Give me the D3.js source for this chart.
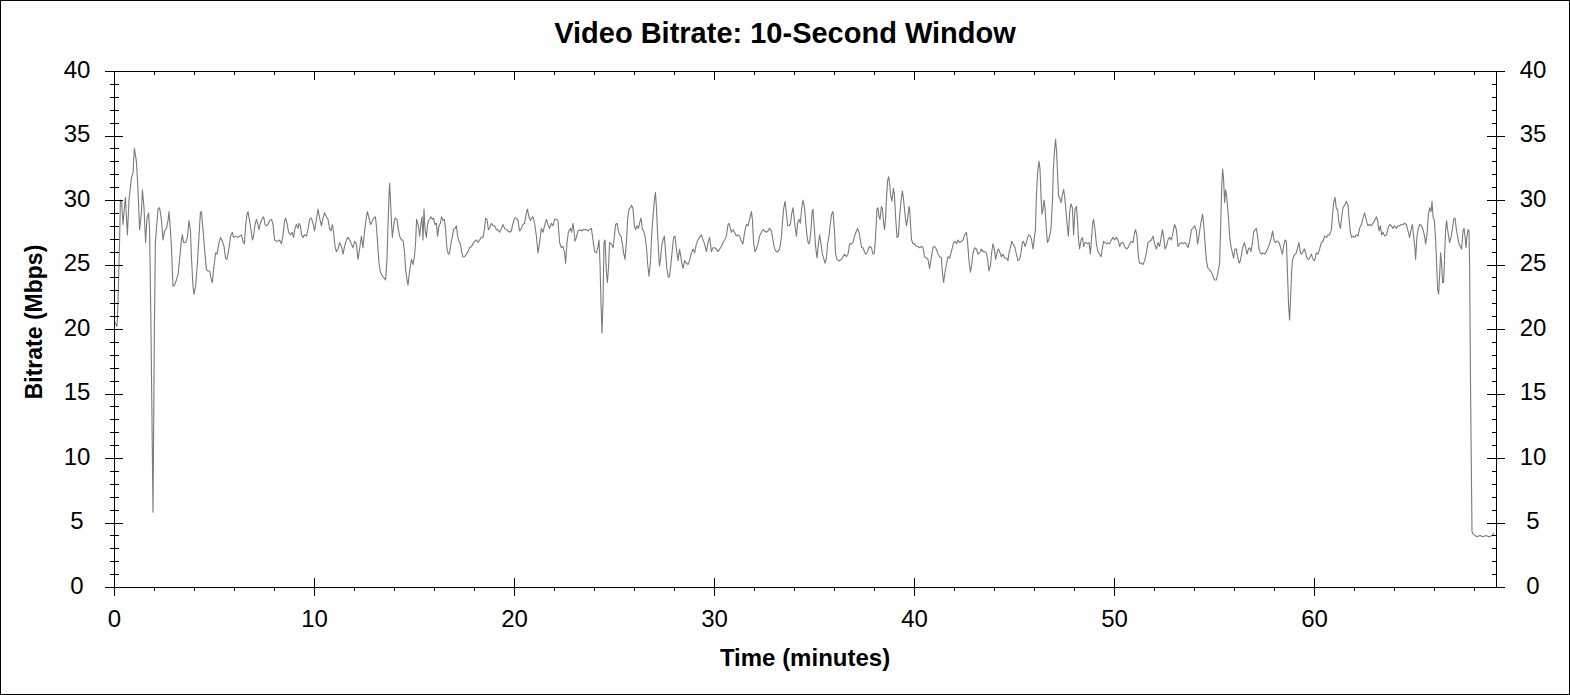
<!DOCTYPE html>
<html>
<head>
<meta charset="utf-8">
<title>Video Bitrate: 10-Second Window</title>
<style>
  body { margin: 0px; overflow: hidden; background: #fff; }
  text { font-family: Arial, "Liberation Sans", sans-serif; fill: #000; }
  .tick line { stroke: #000; shape-rendering: crispEdges; }
</style>
<script src="https://d3js.org/d3.v7.min.js"></script>
</head>
<body>
<svg width="1570" height="695"></svg>
<script>
// [minute, Mbps] samples, one array per 10 minutes
const bitrate00to10 = [[0.05,20.5],[0.15,20.2],[0.20,22.0],[0.28,26.9],[0.32,30.0],[0.38,29.9],[0.45,28.1],[0.52,29.4],[0.57,30.2],[0.67,27.3],[0.75,30.0],[0.87,31.7],[0.95,32.1],[1.02,34.0],[1.12,33.0],[1.20,30.8],[1.28,27.7],[1.37,29.0],[1.42,30.8],[1.50,29.4],[1.58,26.7],[1.65,28.6],[1.73,29.0],[1.78,27.7],[1.85,20.0],[1.95,5.8],[2.02,20.0],[2.07,26.7],[2.20,29.3],[2.28,29.4],[2.37,28.5],[2.45,26.9],[2.53,27.6],[2.62,27.8],[2.70,28.4],[2.75,29.1],[2.82,27.7],[2.87,26.4],[2.95,23.3],[3.03,23.4],[3.12,23.8],[3.20,24.2],[3.28,25.4],[3.37,26.9],[3.42,27.3],[3.48,26.7],[3.58,26.7],[3.67,27.1],[3.75,28.4],[3.82,27.7],[3.87,25.6],[3.95,23.3],[4.00,22.7],[4.08,23.3],[4.17,25.1],[4.25,27.2],[4.32,29.0],[4.37,29.1],[4.45,27.7],[4.53,26.2],[4.62,24.6],[4.70,24.5],[4.78,24.5],[4.87,23.8],[4.92,23.6],[4.98,24.6],[5.08,25.9],[5.15,25.8],[5.25,26.7],[5.33,27.1],[5.42,26.8],[5.50,26.4],[5.58,25.5],[5.65,25.4],[5.72,26.0],[5.78,26.6],[5.83,27.2],[5.92,27.5],[5.98,27.1],[6.08,27.2],[6.20,27.1],[6.28,27.2],[6.37,27.3],[6.45,26.8],[6.52,26.6],[6.58,28.0],[6.65,28.9],[6.70,29.1],[6.78,28.4],[6.85,27.7],[6.92,26.9],[6.98,27.2],[7.05,28.1],[7.12,28.5],[7.18,28.2],[7.25,27.7],[7.32,28.2],[7.42,28.6],[7.48,28.7],[7.55,28.1],[7.62,28.0],[7.70,28.1],[7.78,28.4],[7.88,28.5],[7.95,28.1],[8.03,26.9],[8.12,26.8],[8.20,26.8],[8.28,26.9],[8.37,26.6],[8.45,27.3],[8.53,28.4],[8.58,28.6],[8.65,28.2],[8.73,27.5],[8.82,27.3],[8.90,27.5],[8.98,27.1],[9.05,27.8],[9.12,28.1],[9.20,27.8],[9.25,28.2],[9.32,28.0],[9.38,27.3],[9.45,27.1],[9.53,27.3],[9.62,27.2],[9.70,27.7],[9.78,28.5]];

const bitrate10to20 = [[9.87,28.6],[9.95,28.2],[10.03,27.6],[10.12,28.5],[10.20,29.3],[10.28,28.6],[10.37,28.0],[10.45,28.6],[10.53,29.0],[10.62,28.7],[10.70,28.5],[10.78,27.8],[10.85,27.6],[10.92,28.1],[10.98,27.5],[11.05,26.4],[11.12,26.0],[11.20,26.2],[11.28,26.7],[11.37,26.4],[11.45,25.8],[11.53,26.4],[11.62,26.9],[11.70,27.1],[11.78,26.9],[11.87,26.6],[11.95,26.3],[12.03,26.8],[12.12,26.6],[12.20,25.4],[12.28,26.2],[12.37,27.2],[12.45,26.3],[12.53,27.6],[12.62,28.7],[12.67,29.1],[12.75,28.6],[12.83,28.1],[12.92,28.4],[13.00,28.6],[13.07,28.7],[13.12,28.0],[13.20,26.2],[13.25,25.1],[13.32,24.4],[13.42,24.1],[13.48,24.0],[13.58,23.8],[13.65,25.4],[13.70,28.0],[13.75,30.3],[13.78,31.3],[13.83,29.8],[13.88,28.0],[13.92,27.1],[13.98,28.0],[14.05,28.6],[14.15,28.5],[14.22,27.7],[14.28,27.2],[14.37,26.9],[14.45,26.9],[14.53,25.9],[14.58,24.6],[14.65,23.8],[14.70,23.4],[14.75,24.1],[14.82,24.9],[14.88,25.4],[14.95,25.0],[15.02,25.6],[15.08,26.7],[15.13,28.5],[15.22,28.0],[15.28,27.2],[15.35,28.2],[15.40,28.7],[15.45,26.9],[15.50,29.3],[15.55,27.7],[15.62,27.1],[15.67,28.0],[15.72,28.4],[15.78,28.5],[15.85,28.7],[15.92,28.5],[15.98,28.6],[16.05,28.1],[16.12,28.2],[16.18,27.2],[16.25,28.0],[16.32,28.2],[16.38,28.7],[16.45,28.4],[16.52,28.5],[16.58,27.7],[16.65,26.2],[16.72,25.8],[16.78,25.9],[16.85,26.7],[16.92,27.2],[16.98,27.7],[17.05,27.8],[17.12,28.0],[17.18,27.2],[17.25,26.8],[17.32,26.6],[17.38,26.0],[17.45,25.6],[17.53,25.6],[17.62,25.8],[17.70,26.0],[17.78,26.3],[17.87,26.4],[17.95,26.6],[18.03,26.8],[18.12,26.9],[18.20,26.7],[18.28,26.9],[18.37,27.1],[18.45,27.1],[18.52,27.7],[18.58,28.6],[18.65,28.5],[18.72,27.7],[18.78,27.8],[18.87,28.2],[18.95,28.0],[19.03,28.0],[19.12,27.7],[19.20,27.7],[19.28,27.5],[19.37,27.8],[19.45,28.1],[19.53,27.8],[19.62,27.7],[19.70,27.6],[19.78,27.5]];

const bitrate20to30 = [[19.87,27.6],[19.95,28.2],[20.03,28.6],[20.12,28.6],[20.20,28.4],[20.28,27.6],[20.37,27.8],[20.45,28.1],[20.53,28.2],[20.62,29.0],[20.67,29.3],[20.75,28.7],[20.82,28.4],[20.88,28.6],[20.95,28.7],[21.03,28.2],[21.12,27.2],[21.20,25.9],[21.28,26.7],[21.37,27.8],[21.45,27.5],[21.53,28.0],[21.62,28.5],[21.70,28.1],[21.78,27.8],[21.87,28.2],[21.95,28.0],[22.03,28.5],[22.12,28.5],[22.20,28.4],[22.28,26.7],[22.37,26.3],[22.45,26.4],[22.53,25.9],[22.58,25.1],[22.65,26.7],[22.72,27.5],[22.78,27.7],[22.83,27.8],[22.88,27.5],[22.95,28.2],[23.00,27.6],[23.05,26.8],[23.12,27.1],[23.20,27.6],[23.28,27.7],[23.37,27.6],[23.45,27.7],[23.53,27.7],[23.62,27.7],[23.70,27.6],[23.78,27.7],[23.87,27.8],[23.95,26.9],[24.03,26.0],[24.12,25.9],[24.20,26.4],[24.25,26.9],[24.30,25.1],[24.35,22.0],[24.40,19.7],[24.45,22.0],[24.50,26.7],[24.55,26.9],[24.62,24.4],[24.67,23.6],[24.73,24.9],[24.78,26.7],[24.87,26.6],[24.95,26.3],[25.02,27.2],[25.08,28.1],[25.15,28.2],[25.22,27.6],[25.28,27.3],[25.35,27.2],[25.42,26.6],[25.48,25.9],[25.55,25.4],[25.62,26.7],[25.68,28.5],[25.75,29.3],[25.82,29.4],[25.88,29.6],[25.95,29.3],[26.02,28.0],[26.08,27.7],[26.15,28.0],[26.22,27.8],[26.28,28.2],[26.35,28.6],[26.42,27.7],[26.48,27.6],[26.55,27.2],[26.62,26.4],[26.68,25.1],[26.75,24.1],[26.82,25.1],[26.88,27.2],[26.95,28.7],[27.02,30.0],[27.07,30.6],[27.12,29.5],[27.17,27.7],[27.22,26.2],[27.27,24.9],[27.32,25.3],[27.38,26.4],[27.45,26.9],[27.52,27.2],[27.58,25.9],[27.65,24.6],[27.72,24.0],[27.78,24.1],[27.85,25.1],[27.92,26.2],[27.98,27.1],[28.05,27.2],[28.12,26.2],[28.20,25.3],[28.28,26.2],[28.37,25.3],[28.45,24.7],[28.53,25.3],[28.62,25.1],[28.70,25.0],[28.78,25.3],[28.87,25.9],[28.95,26.2],[29.03,25.9],[29.12,26.6],[29.20,26.9],[29.28,27.1],[29.37,27.3],[29.45,26.9],[29.53,26.6],[29.62,26.0],[29.70,26.7],[29.78,27.1]];

const bitrate30to40 = [[29.87,26.0],[29.95,26.3],[30.03,26.3],[30.12,26.2],[30.20,26.0],[30.28,26.2],[30.37,26.4],[30.45,26.7],[30.53,26.9],[30.62,27.2],[30.70,28.1],[30.75,28.2],[30.82,27.8],[30.87,27.5],[30.95,27.7],[31.03,27.5],[31.12,27.2],[31.20,27.3],[31.28,27.2],[31.37,26.8],[31.45,26.6],[31.53,27.5],[31.62,28.1],[31.70,28.0],[31.78,28.5],[31.87,29.1],[31.92,28.5],[31.98,26.7],[32.05,26.0],[32.12,26.2],[32.20,26.6],[32.28,27.2],[32.37,27.5],[32.45,27.7],[32.53,27.6],[32.62,27.5],[32.70,27.6],[32.78,27.8],[32.87,27.6],[32.95,26.9],[33.03,26.2],[33.12,26.0],[33.20,26.0],[33.28,26.2],[33.37,27.1],[33.42,28.2],[33.48,29.3],[33.55,29.9],[33.62,29.0],[33.68,28.0],[33.75,28.0],[33.82,28.1],[33.88,28.9],[33.95,29.4],[34.00,28.7],[34.05,28.0],[34.12,27.2],[34.18,28.2],[34.25,28.5],[34.32,28.2],[34.38,29.3],[34.45,30.0],[34.52,29.5],[34.58,28.4],[34.65,27.2],[34.72,26.6],[34.78,26.7],[34.85,27.7],[34.90,29.0],[34.95,29.3],[35.02,27.7],[35.08,26.4],[35.15,25.5],[35.22,26.6],[35.28,27.3],[35.35,26.6],[35.42,25.8],[35.48,25.5],[35.55,25.1],[35.62,25.5],[35.68,26.6],[35.75,27.2],[35.82,28.2],[35.88,28.9],[35.95,29.1],[36.02,27.7],[36.08,25.8],[36.15,25.4],[36.22,25.3],[36.28,25.3],[36.37,25.4],[36.45,25.6],[36.53,25.8],[36.62,25.6],[36.70,25.8],[36.78,26.6],[36.87,26.6],[36.95,26.7],[37.03,27.2],[37.12,27.6],[37.18,27.8],[37.25,27.5],[37.32,26.9],[37.38,26.3],[37.45,26.3],[37.52,26.0],[37.58,25.8],[37.65,25.9],[37.72,26.2],[37.78,26.4],[37.87,26.3],[37.95,25.8],[38.02,25.9],[38.08,27.2],[38.15,29.3],[38.20,29.4],[38.25,28.7],[38.30,28.5],[38.37,29.5],[38.42,29.3],[38.48,28.2],[38.53,27.7],[38.58,28.7],[38.63,30.3],[38.68,31.5],[38.73,31.8],[38.78,31.3],[38.83,30.4],[38.90,29.9],[38.97,30.9],[39.02,30.4],[39.08,28.7],[39.15,27.1],[39.22,27.2],[39.28,28.7],[39.35,29.9],[39.42,30.7],[39.48,30.0],[39.55,28.9],[39.62,28.0],[39.68,28.5],[39.75,29.5]];

const bitrate40to50 = [[39.78,29.4],[39.83,28.0],[39.88,26.9],[39.95,26.6],[40.03,26.6],[40.12,26.4],[40.20,26.4],[40.28,26.3],[40.37,26.4],[40.45,26.3],[40.53,25.6],[40.62,25.5],[40.70,25.4],[40.78,24.7],[40.87,25.6],[40.95,26.3],[41.03,26.4],[41.12,26.2],[41.20,25.8],[41.28,25.6],[41.37,25.5],[41.42,24.4],[41.48,23.6],[41.55,24.4],[41.62,25.0],[41.70,25.6],[41.78,25.5],[41.85,25.9],[41.92,26.3],[41.98,26.7],[42.05,26.8],[42.12,26.6],[42.20,26.9],[42.28,26.7],[42.37,26.8],[42.45,26.9],[42.53,27.3],[42.62,27.5],[42.68,26.7],[42.75,25.3],[42.82,24.4],[42.88,24.9],[42.95,25.9],[43.03,26.3],[43.12,26.2],[43.20,25.8],[43.28,25.9],[43.37,26.2],[43.45,26.0],[43.53,26.0],[43.62,25.9],[43.68,25.4],[43.75,24.5],[43.82,24.9],[43.88,25.9],[43.95,26.6],[44.02,26.2],[44.08,25.4],[44.15,25.9],[44.22,26.2],[44.28,26.0],[44.37,25.6],[44.45,25.8],[44.53,25.5],[44.62,25.5],[44.70,25.3],[44.75,25.9],[44.82,26.3],[44.88,26.8],[44.95,26.6],[45.03,26.4],[45.12,25.8],[45.20,25.3],[45.28,25.4],[45.35,25.9],[45.42,26.7],[45.48,26.8],[45.55,26.4],[45.62,26.7],[45.68,27.1],[45.75,27.3],[45.82,27.2],[45.88,26.9],[45.95,26.2],[46.02,27.1],[46.07,27.7],[46.12,30.3],[46.18,32.1],[46.25,33.0],[46.30,32.4],[46.35,30.3],[46.40,28.9],[46.45,29.3],[46.50,30.0],[46.55,29.4],[46.62,27.7],[46.67,26.7],[46.73,26.9],[46.78,27.2],[46.85,27.8],[46.92,29.8],[46.97,32.4],[47.03,33.9],[47.08,34.7],[47.13,33.7],[47.18,31.9],[47.23,30.3],[47.28,30.2],[47.35,29.8],[47.42,30.4],[47.48,30.8],[47.53,30.3],[47.58,29.5],[47.65,28.2],[47.72,27.2],[47.78,29.0],[47.85,29.7],[47.92,29.4],[47.98,27.3],[48.05,29.3],[48.12,29.5],[48.17,28.5],[48.23,26.9],[48.28,26.2],[48.35,26.9],[48.42,27.1],[48.48,26.4],[48.55,26.7],[48.62,26.7],[48.68,26.6],[48.75,26.7],[48.82,25.8],[48.88,27.1],[48.93,28.2],[48.98,28.5],[49.05,27.7],[49.12,26.6],[49.20,26.0],[49.28,25.8],[49.35,25.6],[49.42,26.3],[49.48,26.8],[49.55,26.7],[49.62,26.6],[49.70,26.7],[49.78,26.6]];

const bitrate50to60 = [[49.87,26.9],[49.95,27.1],[50.03,26.9],[50.12,27.1],[50.20,26.9],[50.28,26.4],[50.37,26.7],[50.45,26.7],[50.53,26.4],[50.62,26.2],[50.70,26.3],[50.78,26.6],[50.87,26.8],[50.95,26.7],[51.03,27.5],[51.08,27.7],[51.15,27.2],[51.22,25.6],[51.28,25.1],[51.37,25.1],[51.45,25.0],[51.53,25.3],[51.62,25.9],[51.70,26.7],[51.78,26.8],[51.87,26.9],[51.95,27.2],[52.03,26.6],[52.12,26.2],[52.20,26.7],[52.28,26.4],[52.37,27.2],[52.42,27.7],[52.48,27.2],[52.55,26.2],[52.62,26.4],[52.70,26.9],[52.78,27.1],[52.87,26.9],[52.95,27.5],[53.03,28.1],[53.12,27.7],[53.20,26.4],[53.28,26.6],[53.37,26.7],[53.45,26.6],[53.53,26.7],[53.62,26.6],[53.70,26.3],[53.78,26.8],[53.87,27.7],[53.95,27.8],[54.03,28.0],[54.12,27.6],[54.18,26.6],[54.25,27.2],[54.32,28.0],[54.38,28.5],[54.43,28.9],[54.48,28.2],[54.55,26.7],[54.62,25.3],[54.70,24.7],[54.78,24.6],[54.87,24.4],[54.95,24.1],[55.03,23.8],[55.12,23.8],[55.20,24.4],[55.28,25.1],[55.33,27.7],[55.38,30.8],[55.43,32.4],[55.48,31.6],[55.53,29.8],[55.58,30.8],[55.63,30.3],[55.68,29.5],[55.73,28.5],[55.78,27.2],[55.85,26.4],[55.92,25.9],[55.98,25.5],[56.05,26.2],[56.12,26.2],[56.18,25.6],[56.25,25.1],[56.32,25.3],[56.38,25.8],[56.45,26.4],[56.52,26.7],[56.58,26.3],[56.65,25.8],[56.72,26.2],[56.78,26.3],[56.85,26.0],[56.92,26.7],[56.98,27.5],[57.05,27.7],[57.12,27.8],[57.18,27.2],[57.25,26.2],[57.32,25.9],[57.38,25.8],[57.45,25.9],[57.53,25.8],[57.62,26.0],[57.70,26.3],[57.78,26.6],[57.87,27.1],[57.93,27.6],[58.00,26.9],[58.07,26.7],[58.13,26.8],[58.20,26.8],[58.28,26.6],[58.35,26.2],[58.42,25.8],[58.48,26.4],[58.55,26.9],[58.62,26.8],[58.68,24.1],[58.73,21.8],[58.78,20.7],[58.83,22.5],[58.88,24.4],[58.93,25.4],[58.98,25.6],[59.05,25.8],[59.12,25.9],[59.18,26.3],[59.25,26.7],[59.32,25.9],[59.38,25.8],[59.45,26.0],[59.52,26.2],[59.58,25.9],[59.65,25.5],[59.72,25.4],[59.78,25.5]];

const bitrate60to69 = [[59.87,25.8],[59.95,25.4],[60.03,25.3],[60.12,25.9],[60.20,25.8],[60.28,26.2],[60.37,26.7],[60.45,26.8],[60.53,27.2],[60.62,27.1],[60.70,27.3],[60.78,27.3],[60.87,27.7],[60.92,28.7],[60.98,29.8],[61.05,30.2],[61.12,29.3],[61.18,29.3],[61.25,28.2],[61.32,27.8],[61.38,28.6],[61.45,29.4],[61.53,29.6],[61.62,29.9],[61.70,29.6],[61.75,28.6],[61.82,27.5],[61.88,27.1],[61.95,27.2],[62.03,27.1],[62.12,27.3],[62.20,27.2],[62.28,27.8],[62.37,28.1],[62.45,28.6],[62.53,29.0],[62.62,28.4],[62.70,28.0],[62.78,28.1],[62.87,28.0],[62.95,28.2],[63.03,28.4],[63.12,28.7],[63.18,28.4],[63.25,27.6],[63.32,28.0],[63.38,27.3],[63.45,27.5],[63.53,27.2],[63.62,27.3],[63.70,27.8],[63.78,28.1],[63.87,28.0],[63.95,27.8],[64.03,28.0],[64.12,27.8],[64.20,28.0],[64.28,28.0],[64.37,28.1],[64.45,28.1],[64.53,28.2],[64.62,28.1],[64.70,27.6],[64.78,27.1],[64.87,27.8],[64.92,28.1],[64.98,27.2],[65.05,26.2],[65.08,25.4],[65.15,27.2],[65.22,27.8],[65.28,28.1],[65.37,28.0],[65.45,27.7],[65.53,27.2],[65.58,26.6],[65.65,27.3],[65.72,28.9],[65.78,29.4],[65.85,29.1],[65.90,29.9],[65.95,28.7],[66.02,28.4],[66.08,26.9],[66.13,25.1],[66.18,23.1],[66.23,22.7],[66.28,24.1],[66.33,25.9],[66.38,25.1],[66.43,23.6],[66.48,23.6],[66.53,25.6],[66.58,27.7],[66.63,28.4],[66.68,27.7],[66.73,27.2],[66.78,26.7],[66.85,27.1],[66.92,27.7],[66.98,28.5],[67.05,28.6],[67.12,27.7],[67.18,27.2],[67.25,26.6],[67.32,26.4],[67.38,26.2],[67.45,27.6],[67.50,27.8],[67.55,27.2],[67.60,26.3],[67.65,27.2],[67.70,27.7],[67.75,27.6],[67.78,25.1],[67.83,15.0],[67.90,4.3],[67.95,4.1],[68.05,4.0],[68.15,3.9],[68.30,4.0],[68.45,3.9],[68.60,4.0],[68.75,3.9],[68.90,4.0],[69.00,4.2]];

// axis ticks
const xMajorTicks = [0, 10, 20, 30, 40, 50, 60];
const xMinorTicks = [2, 4, 6, 8, 12, 14, 16, 18, 22, 24, 26, 28, 32, 34, 36, 38, 42, 44, 46, 48, 52, 54, 56, 58, 62, 64, 66, 68];
const yMajorTicks = [0, 5, 10, 15, 20, 25, 30, 35, 40];
const yMinorTicks = d3.range(0, 41).filter(d => d % 5 !== 0);

const chartTitle = 'Video Bitrate: 10-Second Window';
const xTitle = 'Time (minutes)';
const yTitle = 'Bitrate (Mbps)';

const samples = [].concat(bitrate00to10, bitrate10to20, bitrate20to30, bitrate30to40,
                          bitrate40to50, bitrate50to60, bitrate60to69);

const svg = d3.select('svg');
const width = +svg.attr('width');
const height = +svg.attr('height');

//plot box
const plot = { left: 114, right: 1496, top: 71, bottom: 587 };

const xScale = d3.scaleLinear().domain([0, 69.1]).range([plot.left, plot.right]);
const yScale = d3.scaleLinear().domain([0, 40]).range([plot.bottom, plot.top]);

//white background + outer frame
svg.append('rect')
    .attr('x', 0.5).attr('y', 0.5)
    .attr('width', width - 1).attr('height', height - 1)
    .attr('fill', '#fff').attr('stroke', '#000');

//the trace
svg.append('path')
    .datum(samples)
    .attr('fill', 'none')
    .attr('stroke', '#7a7a7a')
    .attr('stroke-width', 1.1)
    .attr('stroke-linejoin', 'round')
    .attr('d', d3.line().x(d => xScale(d[0])).y(d => yScale(d[1])));

//plot frame
svg.append('rect')
    .attr('x', plot.left + 0.5).attr('y', plot.top + 0.5)
    .attr('width', plot.right - plot.left).attr('height', plot.bottom - plot.top)
    .attr('fill', 'none').attr('stroke', '#000')
    .attr('shape-rendering', 'crispEdges');

const font = 'Arial, "Liberation Sans", sans-serif';

function clean(g) {
    g.select('.domain').remove();
    g.attr('font-size', 24).attr('font-family', font);
}

//left axis
svg.append('g').attr('transform', `translate(${plot.left},0)`)
    .call(d3.axisLeft(yScale).tickValues(yMinorTicks).tickSize(4.5).tickFormat(''))
    .call(clean)
    .selectAll('.tick line').attr('x1', 4.5);

const leftMajor = svg.append('g').attr('transform', `translate(${plot.left},0)`)
    .call(d3.axisLeft(yScale).tickValues(yMajorTicks).tickSize(9).tickFormat(d3.format('d')))
    .call(clean);
leftMajor.selectAll('.tick line').attr('x1', 9);
leftMajor.selectAll('.tick text')
    .attr('x', -37).attr('y', 6).attr('dy', null)
    .attr('text-anchor', 'middle');

//right axis
svg.append('g').attr('transform', `translate(${plot.right},0)`)
    .call(d3.axisRight(yScale).tickValues(yMinorTicks).tickSize(0).tickFormat(''))
    .call(clean)
    .selectAll('.tick line').attr('x2', -4.5);

const rightMajor = svg.append('g').attr('transform', `translate(${plot.right},0)`)
    .call(d3.axisRight(yScale).tickValues(yMajorTicks).tickSize(9).tickFormat(d3.format('d')))
    .call(clean);
rightMajor.selectAll('.tick line').attr('x1', -9);
rightMajor.selectAll('.tick text')
    .attr('x', 37).attr('y', 6).attr('dy', null)
    .attr('text-anchor', 'middle');

//bottom axis
svg.append('g').attr('transform', `translate(0,${plot.bottom})`)
    .call(d3.axisBottom(xScale).tickValues(xMinorTicks).tickSize(4).tickFormat(''))
    .call(clean);

const bottomMajor = svg.append('g').attr('transform', `translate(0,${plot.bottom})`)
    .call(d3.axisBottom(xScale).tickValues(xMajorTicks).tickSize(9).tickFormat(d3.format('d')))
    .call(clean);
bottomMajor.selectAll('.tick line').attr('y1', -9);
bottomMajor.selectAll('.tick text')
    .attr('y', 40).attr('dy', null)
    .attr('text-anchor', 'middle');

//top axis (ticks pointing in, no labels)
svg.append('g').attr('transform', `translate(0,${plot.top})`)
    .call(d3.axisTop(xScale).tickValues(xMinorTicks).tickSize(0).tickFormat(''))
    .call(clean)
    .selectAll('.tick line').attr('y2', 4);

svg.append('g').attr('transform', `translate(0,${plot.top})`)
    .call(d3.axisTop(xScale).tickValues(xMajorTicks).tickSize(0).tickFormat(''))
    .call(clean)
    .selectAll('.tick line').attr('y2', 9);

//titles
svg.append('text')
    .attr('x', width / 2).attr('y', 43)
    .attr('text-anchor', 'middle')
    .attr('font-size', 29).attr('font-weight', 'bold')
    .text(chartTitle);

svg.append('text')
    .attr('x', (plot.left + plot.right) / 2).attr('y', 666)
    .attr('text-anchor', 'middle')
    .attr('font-size', 24).attr('font-weight', 'bold')
    .text(xTitle);

svg.append('text')
    .attr('transform', `translate(41.5,${(plot.top + plot.bottom) / 2 - 7}) rotate(-90)`)
    .attr('text-anchor', 'middle')
    .attr('font-size', 23).attr('font-weight', 'bold')
    .text(yTitle);
</script>
</body>
</html>
